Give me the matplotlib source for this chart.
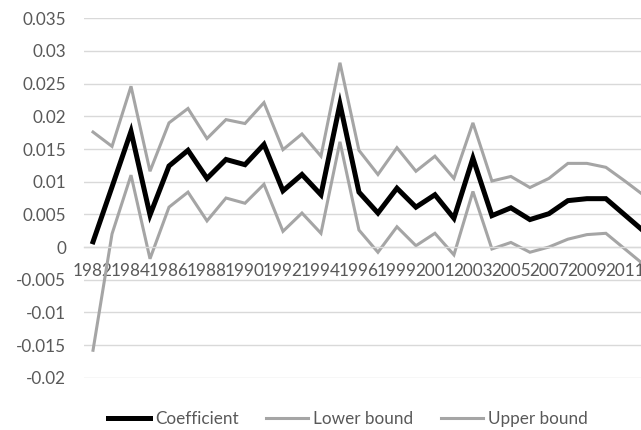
import matplotlib
matplotlib.use("Agg")
import matplotlib.pyplot as plt
import numpy as np

# Rolling coefficient estimate with its confidence bounds, by year
years = [1982, 1983, 1984, 1985, 1986, 1987, 1988, 1989, 1990, 1991,
         1992, 1993, 1994, 1995, 1996, 1997, 1999, 2000, 2001, 2002,
         2003, 2004, 2005, 2006, 2007, 2008, 2009, 2010, 2011, 2012]
coefficient = [0.0008, 0.0092, 0.0177, 0.0049, 0.0124, 0.0148, 0.0105, 0.0134, 0.0126, 0.0157,
               0.0086, 0.0111, 0.0080, 0.0219, 0.0084, 0.0052, 0.0090, 0.0061, 0.0080, 0.0044,
               0.0136, 0.0048, 0.0060, 0.0042, 0.0051, 0.0071, 0.0074, 0.0074, 0.0049, 0.0024]
lower_bound = [-0.0158, 0.0020, 0.0110, -0.0018, 0.0061, 0.0084, 0.0040, 0.0075, 0.0067, 0.0096,
               0.0024, 0.0052, 0.0021, 0.0161, 0.0026, -0.0008, 0.0031, 0.0002, 0.0021, -0.0012,
               0.0085, -0.0003, 0.0007, -0.0008, 0.0000, 0.0012, 0.0019, 0.0021, -0.0003, -0.0027]
upper_bound = [0.0176, 0.0154, 0.0246, 0.0116, 0.0190, 0.0212, 0.0166, 0.0195, 0.0189, 0.0221,
               0.0149, 0.0173, 0.0139, 0.0282, 0.0148, 0.0111, 0.0152, 0.0116, 0.0139, 0.0105,
               0.0190, 0.0101, 0.0108, 0.0091, 0.0105, 0.0128, 0.0128, 0.0122, 0.0101, 0.0079]

y_ticks = [-0.02, -0.015, -0.01, -0.005, 0, 0.005, 0.01, 0.015, 0.02, 0.025, 0.03, 0.035]
y_tick_labels = ["-0.02", "-0.015", "-0.01", "-0.005", "0", "0.005", "0.01",
                 "0.015", "0.02", "0.025", "0.03", "0.035"]

text_grey = "#595959"
grid_grey = "#d9d9d9"
band_grey = "#a5a5a5"

plt.rcParams["font.family"] = ["Lato", "DejaVu Sans"]
plt.rcParams["font.size"] = 12.3

fig = plt.figure(figsize=(6.41, 4.30), dpi=100)
# plot area runs a little past the right edge of the canvas
ax = fig.add_axes([0.1303, 0.1216, 0.889, 0.8358])

x = np.arange(len(years))
ax.plot(x, coefficient, color="black", lw=3.6, label="Coefficient", solid_joinstyle="miter")
ax.plot(x, lower_bound, color=band_grey, lw=2.2, label="Lower bound", solid_joinstyle="miter")
ax.plot(x, upper_bound, color=band_grey, lw=2.2, label="Upper bound", solid_joinstyle="miter")

ax.set_xlim(-0.5, len(years) - 0.5)
ax.set_ylim(-0.02, 0.035)
ax.set_yticks(y_ticks)
ax.set_yticklabels(y_tick_labels)
ax.set_xticks(x[::2])
ax.set_xticklabels([str(y) for y in years[::2]])

ax.grid(axis="y", color=grid_grey, lw=1.0)
ax.set_axisbelow(True)
for side in ["top", "right", "left"]:
    ax.spines[side].set_visible(False)
ax.spines["bottom"].set_position(("data", 0))
ax.spines["bottom"].set_color(grid_grey)
ax.spines["bottom"].set_linewidth(1.0)

ax.tick_params(axis="y", length=0, pad=12.5, colors=text_grey)
ax.tick_params(axis="x", length=0, pad=11.5, colors=text_grey)

fig.legend(loc="center left", bbox_to_anchor=(108 / 641, 1 - 419 / 430),
           ncol=3, frameon=False, borderpad=0, borderaxespad=0,
           handlelength=2.46, handletextpad=0.29, columnspacing=1.63,
           labelcolor=text_grey)

fig.savefig("out.png", dpi=100)
